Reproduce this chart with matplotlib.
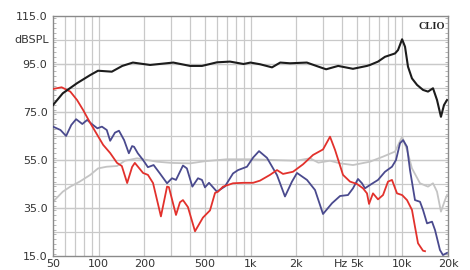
import matplotlib
matplotlib.use("Agg")
import matplotlib.pyplot as plt
from matplotlib.ticker import FixedLocator, NullFormatter, MultipleLocator

# ---- data (frequency in Hz, level in dBSPL) ----
black_f = [50, 58, 72, 88, 99, 122, 143, 168, 218, 310, 400, 479, 601, 733, 900, 1000,
           1155, 1386, 1570, 1820, 2350, 2800, 3150, 3780, 4730, 5850, 6125, 6918, 7690,
           8953, 9370, 9968, 10420, 10900, 11580, 12500, 13690, 14770, 15930, 16930, 17970,
           18820, 19700]
black_db = [77.9, 82.8, 87.0, 90.4, 92.2, 91.8, 94.2, 95.6, 94.6, 95.6, 94.2, 94.2, 95.7,
            96.0, 95.0, 95.6, 94.9, 93.6, 95.6, 95.3, 95.6, 93.9, 92.8, 94.2, 93.0, 94.2,
            94.6, 96.0, 98.0, 99.4, 100.8, 105.3, 102.2, 93.9, 89.0, 86.3, 84.2, 83.5,
            84.9, 80.0, 73.0, 77.9, 80.0]

red_f = [50, 57, 65, 72, 79, 88, 98, 107, 119, 132, 142, 154, 166, 173, 196, 211, 228,
         257, 282, 290, 323, 343, 359, 387, 431, 486, 541, 584, 611, 659, 767, 900, 1040,
         1155, 1344, 1495, 1637, 1905, 2218, 2582, 3004, 3341, 3605, 4068, 4523, 5033,
         5508, 5853, 6037, 6412, 6918, 7463, 8050, 8551, 9228, 9968, 10740, 11580, 12120,
         12690, 13690, 14110]
red_db = [84.6, 85.3, 83.5, 80.0, 75.8, 70.4, 65.4, 61.3, 57.9, 53.8, 52.5, 45.4, 52.1,
          53.8, 49.6, 48.8, 45.4, 31.5, 43.9, 43.7, 32.1, 37.4, 38.3, 35.4, 25.3, 31.0,
          34.0, 41.3, 41.8, 43.9, 45.3, 45.5, 45.5, 46.4, 48.8, 50.8, 49.2, 50.1, 53.2,
          57.1, 59.4, 64.7, 59.2, 48.8, 46.0, 45.0, 43.2, 41.1, 36.7, 41.1, 38.6, 40.4,
          46.0, 46.7, 41.1, 40.4, 38.3, 34.2, 27.2, 20.3, 17.2, 17.0]

blue_f = [50, 56, 61, 66, 71, 78, 84, 90, 98, 105, 113, 119, 128, 136, 147, 158, 166, 171,
          181, 196, 211, 230, 253, 282, 304, 323, 359, 381, 414, 451, 479, 501, 533, 601,
          679, 767, 828, 948, 1040, 1138, 1284, 1495, 1687, 1876, 2025, 2356, 2661, 3004,
          3445, 3890, 4387, 4733, 5105, 5425, 5676, 6125, 6918, 7690, 8551, 9088, 9661,
          10120, 10740, 11240, 12120, 13080, 13690, 14550, 15700, 16430, 17700, 18530, 19700]
blue_db = [68.9, 67.5, 65.0, 69.6, 72.0, 70.0, 71.7, 70.0, 68.2, 68.9, 67.5, 63.0, 66.4,
           67.2, 63.3, 57.8, 60.8, 60.5, 57.8, 55.0, 52.0, 52.9, 49.4, 45.3, 47.4, 46.7,
           52.7, 51.5, 43.9, 47.4, 46.7, 43.6, 45.5, 41.8, 44.0, 49.4, 50.8, 52.2, 56.0,
           58.7, 55.9, 48.7, 39.8, 46.0, 49.6, 46.7, 42.5, 32.5, 37.0, 40.0, 40.4, 43.2,
           47.1, 45.3, 43.2, 44.6, 46.7, 50.1, 52.2, 55.0, 62.0, 63.3, 60.5, 50.8, 38.3,
           37.6, 34.2, 28.6, 29.3, 25.8, 17.5, 15.4, 16.3]

gray_f = [50, 58, 65, 75, 88, 99, 113, 132, 149, 179, 208, 242, 300, 400, 500, 700, 1000,
          1400, 2000, 2466, 2800, 3341, 3890, 4733, 6125, 7463, 8953, 9968, 10740, 11580,
          13080, 14770, 15930, 16930, 17970, 19110, 19700]
gray_db = [37.6, 41.8, 43.9, 46.0, 48.8, 51.5, 52.2, 52.5, 54.7, 55.7, 55.0, 54.3, 53.8,
           53.6, 54.5, 55.3, 55.3, 55.0, 54.7, 55.7, 53.9, 54.7, 53.6, 52.9, 54.3, 56.4,
           58.5, 64.7, 59.2, 51.5, 45.3, 43.9, 45.3, 41.8, 33.5, 38.3, 40.4]

x_ticks = [50, 100, 200, 500, 1000, 2000, 5000, 10000, 20000]
x_labels = ["50", "100", "200", "500", "1k", "2k", "5k", "10k", "20k"]
y_ticks = [15, 35, 55, 75, 95, 115]
y_labels = ["15.0", "35.0", "55.0", "75.0", "95.0", "115.0"]

# ---- figure ----
fig = plt.figure(figsize=(4.7, 2.7), dpi=100)
ax = fig.add_axes([53 / 470, 1 - 256 / 270, 395 / 470, 240 / 270])
ax.set_xscale("log")
ax.set_xlim(50, 20000)
ax.set_ylim(15, 115)

grid_c = "#c9c9c9"
minor_x = [m * 10 ** e for e in range(1, 5) for m in range(1, 10)]
minor_x = [v for v in minor_x if 50 < v < 20000]
for v in minor_x:
    ax.axvline(v, color=grid_c, lw=0.9, zorder=0)
for v in range(25, 115, 10):
    ax.axhline(v, color=grid_c, lw=0.9, zorder=0)
for v in range(35, 115, 20):
    ax.axhline(v, color=grid_c, lw=0.9, zorder=0)

ax.plot(gray_f, gray_db, color="#c4c4c4", lw=1.3, zorder=2)
ax.plot(blue_f, blue_db, color="#4a4a8e", lw=1.3, zorder=3)
ax.plot(red_f, red_db, color="#e2312c", lw=1.3, zorder=4)
ax.plot(black_f, black_db, color="#1c1c1c", lw=1.5, zorder=5)

ax.xaxis.set_major_locator(FixedLocator(x_ticks))
ax.xaxis.set_minor_locator(FixedLocator([]))
ax.xaxis.set_minor_formatter(NullFormatter())
ax.set_xticklabels(x_labels)
ax.set_yticks(y_ticks)
ax.set_yticklabels(y_labels)
ax.yaxis.set_minor_locator(MultipleLocator(2))
ax.tick_params(axis="both", which="major", length=0, labelsize=8, colors="#333333")
ax.tick_params(axis="x", pad=2.5)
ax.tick_params(axis="y", pad=4)
ax.tick_params(axis="y", which="minor", direction="in", length=2, color="#aaaaaa",
               left=True, right=True)

for s in ax.spines.values():
    s.set_color("#8a8a8a")
    s.set_linewidth(1.0)

ax.text(-0.01, 105, "dBSPL", transform=ax.get_yaxis_transform(), ha="right",
        va="center", fontsize=8, color="#333333")
ax.annotate("Hz", xy=(3950, 0), xycoords=("data", "axes fraction"),
            xytext=(0, -2.5), textcoords="offset points", ha="center", va="top",
            fontsize=8, color="#333333", annotation_clip=False)
ax.text(0.992, 0.975, "CLIO", transform=ax.transAxes, ha="right", va="top",
        fontsize=7.5, fontweight="bold", family="Liberation Serif", color="#222222")

fig.savefig("out.png", dpi=100, facecolor="white")
